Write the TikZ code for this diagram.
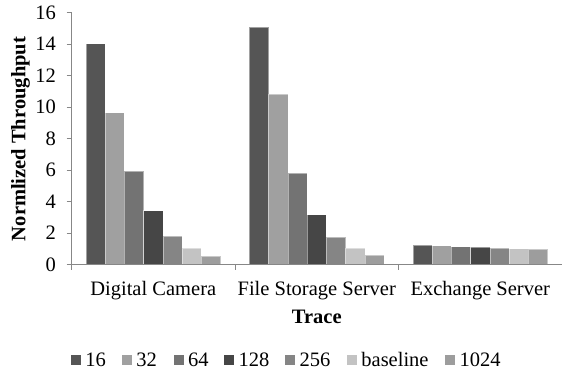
\documentclass[tikz,border=0pt]{standalone}
\usepackage{fontspec}
\setmainfont{Liberation Serif}
\definecolor{bar0}{HTML}{555555}
\definecolor{bar1}{HTML}{A0A0A0}
\definecolor{bar2}{HTML}{737373}
\definecolor{bar3}{HTML}{464646}
\definecolor{bar4}{HTML}{858585}
\definecolor{bar5}{HTML}{C3C3C3}
\definecolor{bar6}{HTML}{9D9D9D}
\definecolor{axisgray}{HTML}{878787}
\begin{document}
\begin{tikzpicture}[x=1pt,y=1pt,
  axisline/.style={draw=axisgray, line width=0.9pt},
  barbox/.style={draw=white, draw opacity=0.45, line width=0.4pt},
  txt/.style={font=\fontsize{20.5}{24}\selectfont, inner sep=0pt},
  btxt/.style={font=\fontsize{20.5}{24}\selectfont\bfseries, inner sep=0pt},
  legsq/.style={minimum size=10pt, inner sep=0pt, anchor=south west}]
\useasboundingbox (0,0) rectangle (562,378);
% bars
\foreach \v [count=\i from 0] in {14.02,9.65,5.93,3.42,1.82,1.02,0.55} {
  \pgfmathsetmacro\xa{71.5+14.43+\i*19.24}
  \filldraw[barbox, fill=bar\i] (\xa,113.5) rectangle ++(19.24,\v*15.75);
}
\foreach \v [count=\i from 0] in {15.05,10.82,5.82,3.17,1.76,1.02,0.60} {
  \pgfmathsetmacro\xa{71.5+163.5+14.43+\i*19.24}
  \filldraw[barbox, fill=bar\i] (\xa,113.5) rectangle ++(19.24,\v*15.75);
}
\foreach \v [count=\i from 0] in {1.22,1.20,1.14,1.09,1.05,1.01,0.97} {
  \pgfmathsetmacro\xa{71.5+327+14.43+\i*19.24}
  \filldraw[barbox, fill=bar\i] (\xa,113.5) rectangle ++(19.24,\v*15.75);
}
% axes
\coordinate (o) at (71.5,113.5);
\coordinate (ytop) at (71.5,365.5);
\coordinate (xend) at (562,113.5);
\draw[axisline] (ytop) -- (o) -- (xend);
\foreach \t in {0,2,...,16} {
  \draw[axisline] (66.5,113.5+\t*15.75) -- (71.5,113.5+\t*15.75);
  \node[txt, anchor=east] (yl\t) at (56,113.5+\t*15.75) {\t};
}
\foreach \x in {71.5,235,398.5,562} {
  \draw[axisline] (\x,113.5) -- (\x,108);
}
% category labels
\node[txt, anchor=base] (c1) at (153.25,82.3) {Digital Camera};
\node[txt, anchor=base] (c2) at (316.75,82.3) {File Storage Server};
\node[txt, anchor=base] (c3) at (480.25,82.3) {Exchange Server};
\node[btxt, anchor=base] (xt) at (316.75,54.7) {Trace};
\node[btxt, rotate=90] (yt) at (20.5,239) {Normlized Throughput};
% legend
\foreach \n/\xs/\lab in {0/70.7/16, 1/121.7/32, 2/173.3/64, 3/224/128, 4/285/256, 5/346.7/baseline, 6/445/1024} {
  \node[legsq, fill=bar\n] (ls\n) at (\xs,13) {};
  \node[txt, anchor=base west] (lt\n) at (\xs+14.5,11.3) {\lab};
}
\end{tikzpicture}
\end{document}
